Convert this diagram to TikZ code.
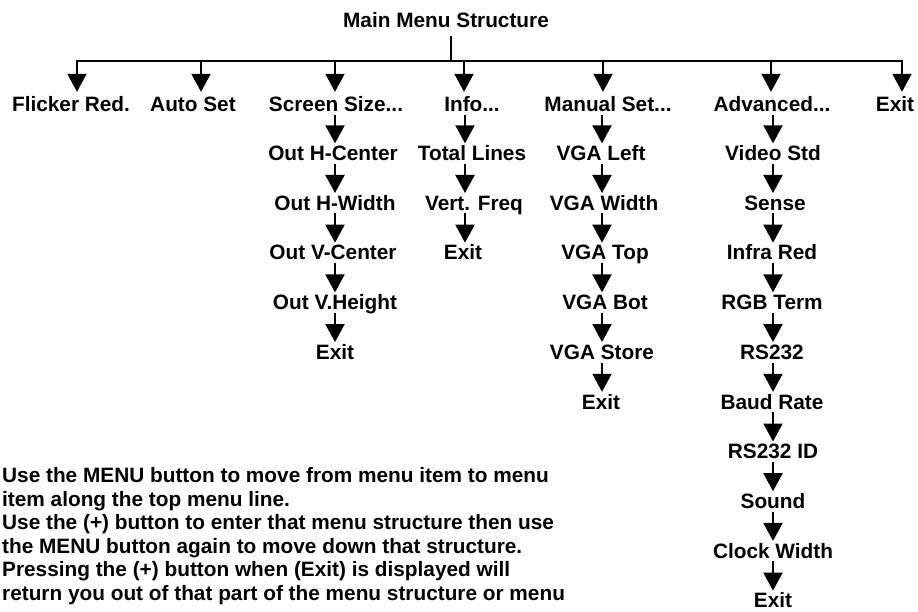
\documentclass[tikz,border=0pt]{standalone}
\usepackage{fontspec}
\setmainfont{Liberation Sans}
\usetikzlibrary{arrows.meta}
\begin{document}
\begin{tikzpicture}[x=1pt,y=-1pt,
  lbl/.style={font=\bfseries\fontsize{20.8}{22.4}\selectfont, inner sep=0pt, anchor=base, text height=15pt, text depth=3pt},
  note/.style={font=\bfseries\fontsize{20.8}{22.4}\selectfont, inner sep=0pt, anchor=base west},
  ln/.style={line width=2pt, black},
  arr/.style={line width=2pt, black, -{Triangle[length=18pt,width=19pt]}}]
\useasboundingbox (0,0) rectangle (918,612);
% title and bus
\node[lbl] (title) at (446,28) {Main Menu Structure};
\coordinate (bus) at (451,61);
\coordinate (t1) at (77,61);
\coordinate (t2) at (201,61);
\coordinate (t3) at (335,61);
\coordinate (t4) at (464,61);
\coordinate (t5) at (603,61);
\coordinate (t6) at (771,61);
\coordinate (t7) at (902,61);
\draw[ln, shorten <=5pt] (title.south -| bus) -- (bus);
\draw[ln, line cap=rect] (t1) -- (t7);
% top row
\node[lbl] (flicker) at (71,112) {Flicker Red.};
\node[lbl] (auto) at (193,112) {Auto Set};
\node[lbl] (screen) at (336,112) {Screen Size...};
\node[lbl] (info) at (472,112) {Info...};
\node[lbl] (manual) at (608,112) {Manual Set...};
\node[lbl] (adv) at (772,112) {Advanced...};
\node[lbl] (exit) at (895,112) {Exit};
\draw[arr, shorten >=5pt] (t1) -- (t1 |- flicker.north);
\draw[arr, shorten >=5pt] (t2) -- (t2 |- auto.north);
\draw[arr, shorten >=5pt] (t3) -- (t3 |- screen.north);
\draw[arr, shorten >=5pt] (t4) -- (t4 |- info.north);
\draw[arr, shorten >=5pt] (t5) -- (t5 |- manual.north);
\draw[arr, shorten >=5pt] (t6) -- (t6 |- adv.north);
\draw[arr, shorten >=5pt] (t7) -- (t7 |- exit.north);
% column x
\coordinate (cS) at (335,0);
\coordinate (cI) at (465,0);
\coordinate (cM) at (602,0);
\coordinate (cA) at (773,0);
% screen size column
\node[lbl] (s1) at (333,160.5) {Out H-Center};
\node[lbl] (s2) at (335,210.2) {Out H-Width};
\node[lbl] (s3) at (333,259.9) {Out V-Center};
\node[lbl] (s4) at (335,309.6) {Out V.Height};
\node[lbl] (s5) at (335,359.3) {Exit};
\draw[arr, shorten >=2pt] (cS |- screen.south) -- (cS |- s1.north);
\draw[arr, shorten >=2pt] (cS |- s1.south) -- (cS |- s2.north);
\draw[arr, shorten >=2pt] (cS |- s2.south) -- (cS |- s3.north);
\draw[arr, shorten >=2pt] (cS |- s3.south) -- (cS |- s4.north);
\draw[arr, shorten >=2pt] (cS |- s4.south) -- (cS |- s5.north);
% info column
\node[lbl] (i1) at (472,160.5) {Total Lines};
\node[lbl] (i2) at (474,210.2) {Vert. Freq};
\node[lbl] (i3) at (463,259.9) {Exit};
\draw[arr, shorten >=2pt] (cI |- info.south) -- (cI |- i1.north);
\draw[arr, shorten >=2pt] (cI |- i1.south) -- (cI |- i2.north);
\draw[arr, shorten >=2pt] (cI |- i2.south) -- (cI |- i3.north);
% manual column
\node[lbl] (m1) at (601,160.5) {VGA Left};
\node[lbl] (m2) at (604,210.2) {VGA Width};
\node[lbl] (m3) at (605,259.9) {VGA Top};
\node[lbl] (m4) at (605,309.6) {VGA Bot};
\node[lbl] (m5) at (602,359.3) {VGA Store};
\node[lbl] (m6) at (601,409.0) {Exit};
\draw[arr, shorten >=2pt] (cM |- manual.south) -- (cM |- m1.north);
\draw[arr, shorten >=2pt] (cM |- m1.south) -- (cM |- m2.north);
\draw[arr, shorten >=2pt] (cM |- m2.south) -- (cM |- m3.north);
\draw[arr, shorten >=2pt] (cM |- m3.south) -- (cM |- m4.north);
\draw[arr, shorten >=2pt] (cM |- m4.south) -- (cM |- m5.north);
\draw[arr, shorten >=2pt] (cM |- m5.south) -- (cM |- m6.north);
% advanced column
\node[lbl] (a1) at (773,160.5) {Video Std};
\node[lbl] (a2) at (775,210.2) {Sense};
\node[lbl] (a3) at (772,259.9) {Infra Red};
\node[lbl] (a4) at (772,309.6) {RGB Term};
\node[lbl] (a5) at (772,359.3) {RS232};
\node[lbl] (a6) at (772,409.0) {Baud Rate};
\node[lbl] (a7) at (773,458.7) {RS232 ID};
\node[lbl] (a8) at (773,508.4) {Sound};
\node[lbl] (a9) at (773,558.1) {Clock Width};
\node[lbl] (a10) at (773,607.8) {Exit};
\draw[arr, shorten >=2pt] (cA |- adv.south) -- (cA |- a1.north);
\draw[arr, shorten >=2pt] (cA |- a1.south) -- (cA |- a2.north);
\draw[arr, shorten >=2pt] (cA |- a2.south) -- (cA |- a3.north);
\draw[arr, shorten >=2pt] (cA |- a3.south) -- (cA |- a4.north);
\draw[arr, shorten >=2pt] (cA |- a4.south) -- (cA |- a5.north);
\draw[arr, shorten >=2pt] (cA |- a5.south) -- (cA |- a6.north);
\draw[arr, shorten >=2pt] (cA |- a6.south) -- (cA |- a7.north);
\draw[arr, shorten >=2pt] (cA |- a7.south) -- (cA |- a8.north);
\draw[arr, shorten >=2pt] (cA |- a8.south) -- (cA |- a9.north);
\draw[arr, shorten >=2pt] (cA |- a9.south) -- (cA |- a10.north);
% notes
\node[note] (n1) at (2,482.5) {Use the MENU button to move from menu item to menu};
\node[note] (n2) at (2,506.0) {item along the top menu line.};
\node[note] (n3) at (2,529.5) {Use the (+) button to enter that menu structure then use};
\node[note] (n4) at (2,553.0) {the MENU button again to move down that structure.};
\node[note] (n5) at (2,576.5) {Pressing the (+) button when (Exit) is displayed will};
\node[note] (n6) at (2,600.0) {return you out of that part of the menu structure or menu};
\end{tikzpicture}
\end{document}
